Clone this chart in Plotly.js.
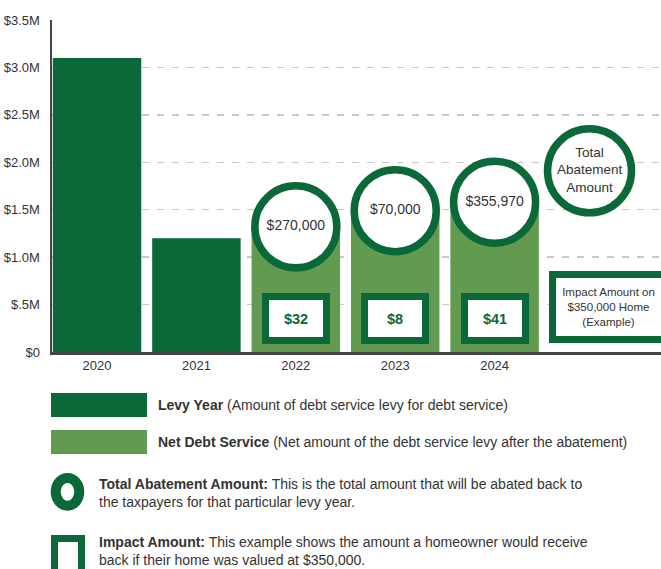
<!DOCTYPE html>
<html>
<head>
<meta charset="utf-8">
<script src="https://cdn.plot.ly/plotly-3.0.1.min.js"></script>
<style>
html,body{margin:0;padding:0;background:#fff;}
#chart{width:661px;height:569px;}
</style>
</head>
<body>
<div id="chart"></div>
<script>
// ---- data ----
const years = ['2020', '2021', '2022', '2023', '2024'];
const levyYear = [3.1e6, 1.2e6, null, null, null];
const netDebtService = [null, null, 1.32e6, 1.49e6, 1.58e6];
const abatementYears = ['2022', '2023', '2024'];
const abatementAmount = [270000, 70000, 355970];
const impactAmount = [32, 8, 41];
const yTickVals = [0, 0.5e6, 1.0e6, 1.5e6, 2.0e6, 2.5e6, 3.0e6, 3.5e6];
const yTickText = ['$0', '$.5M', '$1.0M', '$1.5M', '$2.0M', '$2.5M', '$3.0M', '$3.5M'];

// ---- style ----
const DARK = '#0B6838';
const LIGHT = '#629B4F';
const TXT = '#333333';
const FONT = "'Liberation Sans', Arial, sans-serif";

const xIdx = years.map((_, i) => i);
const fmt = v => '$' + v.toLocaleString('en-US');

// geometry helpers for the legend area (pixel -> paper)
const PL = 52, PW = 609, PT = 20, PH = 332;
const px = x => (x - PL) / PW;
const py = y => (PT + PH - y) / PH;

const traces = [
  {
    type: 'bar', x: xIdx, y: levyYear, width: 0.89,
    marker: {color: DARK}, hoverinfo: 'skip'
  },
  {
    type: 'bar', x: xIdx, y: netDebtService, width: 0.89,
    marker: {color: LIGHT}, hoverinfo: 'skip'
  },
  {
    type: 'scatter', mode: 'markers+text',
    x: abatementYears.map(y => years.indexOf(y)),
    y: abatementYears.map(y => netDebtService[years.indexOf(y)]),
    text: abatementAmount.map(fmt),
    textposition: 'middle center',
    textfont: {family: FONT, size: 14, color: TXT},
    marker: {symbol: 'circle', size: 82, color: '#fff', line: {color: DARK, width: 7.5}},
    cliponaxis: false, hoverinfo: 'skip'
  },
  {
    type: 'scatter', mode: 'markers+text',
    x: [4.955], y: [1.91e6],
    text: ['Total<br>Abatement<br>Amount'],
    textposition: 'middle center',
    textfont: {family: FONT, size: 13.5, color: TXT},
    marker: {symbol: 'circle', size: 84, color: '#fff', line: {color: DARK, width: 7.5}},
    cliponaxis: false, hoverinfo: 'skip'
  }
];

const annotations = [];
abatementYears.forEach((yr, i) => {
  annotations.push({
    x: years.indexOf(yr), y: 0.358e6, xref: 'x', yref: 'y',
    text: '<b>$' + impactAmount[i] + '</b>', showarrow: false,
    font: {family: FONT, size: 14.5, color: DARK},
    bgcolor: '#fff', bordercolor: DARK, borderwidth: 7, borderpad: 0,
    width: 54, height: 37, xanchor: 'center', yanchor: 'middle'
  });
});
annotations.push({
  x: 4.547, y: 0.475e6, xref: 'x', yref: 'y',
  text: 'Impact Amount on<br>$350,000 Home<br>(Example)', showarrow: false,
  font: {family: FONT, size: 11.5, color: TXT},
  bgcolor: '#fff', bordercolor: DARK, borderwidth: 7, borderpad: 0,
  width: 105, height: 58, xanchor: 'left', yanchor: 'middle'
});

// legend texts
const legFont = {family: FONT, size: 14, color: TXT};
annotations.push(
  {xref: 'paper', yref: 'paper', x: px(156), y: py(405), xanchor: 'left', yanchor: 'middle', showarrow: false,
   text: '<b>Levy Year</b> (Amount of debt service levy for debt service)', font: legFont, align: 'left'},
  {xref: 'paper', yref: 'paper', x: px(156), y: py(442), xanchor: 'left', yanchor: 'middle', showarrow: false,
   text: '<b>Net Debt Service</b> (Net amount of the debt service levy after the abatement)', font: legFont, align: 'left'},
  {xref: 'paper', yref: 'paper', x: px(97), y: py(493), xanchor: 'left', yanchor: 'middle', showarrow: false,
   text: '<b>Total Abatement Amount:</b> This is the total amount that will be abated back to<br>the taxpayers for that particular levy year.', font: legFont, align: 'left'},
  {xref: 'paper', yref: 'paper', x: px(97), y: py(551), xanchor: 'left', yanchor: 'middle', showarrow: false,
   text: '<b>Impact Amount:</b> This example shows the amount a homeowner would receive<br>back if their home was valued at $350,000.', font: legFont, align: 'left'}
);

const shapes = [
  {type: 'rect', xref: 'paper', yref: 'paper', x0: px(51), x1: px(147), y0: py(393), y1: py(417), fillcolor: DARK, line: {width: 0}},
  {type: 'rect', xref: 'paper', yref: 'paper', x0: px(51), x1: px(147), y0: py(430), y1: py(454), fillcolor: LIGHT, line: {width: 0}},
  {type: 'circle', xref: 'paper', yref: 'paper', x0: px(55.7), x1: px(79.3), y0: py(478), y1: py(505.7), fillcolor: '#fff', line: {color: DARK, width: 10}},
  {type: 'rect', xref: 'paper', yref: 'paper', x0: px(54.5), x1: px(81.5), y0: py(538.5), y1: py(575), fillcolor: '#fff', line: {color: DARK, width: 7}}
];

const layout = {
  width: 661, height: 569,
  margin: {l: PL, r: 661 - PL - PW, t: PT, b: 569 - PT - PH, pad: 0},
  paper_bgcolor: '#fff', plot_bgcolor: '#fff',
  showlegend: false, barmode: 'overlay',
  font: {family: FONT, color: TXT},
  xaxis: {
    range: [-0.453, 5.674], tickvals: xIdx, ticktext: years,
    showgrid: false, zeroline: false, showline: true, linecolor: '#444', linewidth: 2.5,
    ticks: '', tickfont: {family: FONT, size: 13, color: TXT}, fixedrange: true
  },
  yaxis: {
    range: [0, 3.5e6], tickvals: yTickVals, ticktext: yTickText,
    showgrid: true, gridcolor: '#c8c8c8', gridwidth: 1.5, griddash: '7px,8px',
    zeroline: false, showline: true, linecolor: '#444', linewidth: 2.5,
    ticks: '', ticklabelstandoff: 7, tickfont: {family: FONT, size: 13, color: TXT}, fixedrange: true
  },
  annotations: annotations,
  shapes: shapes
};

Plotly.newPlot('chart', traces, layout, {displayModeBar: false, staticPlot: true});
</script>
</body>
</html>
